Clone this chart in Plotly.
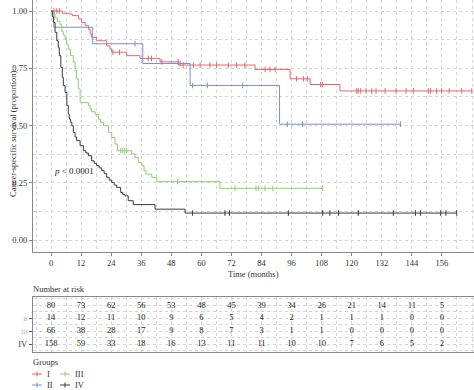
import bisect
import plotly.graph_objects as go

# ---------------- data ----------------
groups = ["I", "II", "III", "IV"]
colors = {"I": "#e4666c", "II": "#7d8fc6", "III": "#8fcd6f", "IV": "#3a3a3a"}

t_I = [0, 4.5, 7, 8.5, 11, 12.2, 13.6, 15, 15.6, 16.2, 18.2, 22.2, 23.5, 24.2, 30.2,
       35.5, 43.5, 50.8, 81.4, 95.4, 103.4, 115.3]
s_I = [1.0, 0.99, 0.987, 0.98, 0.965, 0.95, 0.936, 0.92, 0.90, 0.885, 0.87, 0.848, 0.834,
       0.82, 0.805, 0.793, 0.778, 0.764, 0.745, 0.704, 0.679, 0.651]
c_I = [1.2, 2.3, 3.3, 24.7, 27.3, 38.8, 40.1, 44.2, 50.7, 52.7, 56.8, 59.5, 63.4, 66.1,
       70.7, 74.1, 77.4, 85.4, 87.4, 89.4, 98, 100.7, 102.3, 107.6, 108.4, 122, 122.6,
       123.6, 125.7, 128, 129.7, 133.3, 137.7, 141.7, 144.6, 150.6, 151.5, 153.9, 155.9,
       158.9, 163.9, 167.9]

t_II = [0, 1.1, 16.6, 36.6, 55.5, 91.2]
s_II = [1.0, 0.929, 0.857, 0.771, 0.675, 0.506]
c_II = [33.5, 51.5, 56.5, 62.4, 76.5, 94.3, 100.4, 139.5]

t_III = [0, 0.8, 1.6, 2.5, 3.6, 4.3, 4.9, 5.6, 6.2, 6.9, 7.8, 8.9, 9.6, 10.2, 10.9, 11.6,
         14.9, 15.6, 16.2, 17.6, 18.9, 19.8, 20.9, 22.9, 24.2, 25.5, 26.5, 32.2, 33.5,
         34.8, 36.2, 37.1, 37.9, 40.2, 42.2, 67.4]
s_III = [1.0, 0.985, 0.97, 0.955, 0.94, 0.91, 0.895, 0.878, 0.856, 0.834, 0.805, 0.776,
         0.74, 0.703, 0.66, 0.60, 0.587, 0.572, 0.56, 0.548, 0.528, 0.514, 0.499, 0.47,
         0.448, 0.419, 0.39, 0.376, 0.361, 0.339, 0.325, 0.303, 0.288, 0.274, 0.255, 0.226]
c_III = [27.8, 28.6, 29.4, 30.2, 50.5, 73.4, 81.8, 82.7, 85.4, 88.5, 108.4]

t_IV = [0, 0.5, 1.0, 1.6, 2.3, 2.9, 3.3, 3.9, 4.5, 4.9, 5.6, 6.3, 6.9, 7.3, 7.8, 8.3, 8.9,
        9.6, 10.2, 11.6, 12.9, 13.9, 14.9, 16.2, 17.2, 18.2, 19.2, 20.2, 21.2, 22.2, 23.2,
        24.2, 25.2, 26.2, 27.8, 28.6, 29.5, 30.8, 32.8, 41.5, 53.5]
s_IV = [1.0, 0.975, 0.95, 0.907, 0.87, 0.84, 0.805, 0.754, 0.71, 0.674, 0.645, 0.587, 0.55,
        0.528, 0.514, 0.499, 0.47, 0.45, 0.434, 0.412, 0.39, 0.38, 0.368, 0.346, 0.335,
        0.325, 0.315, 0.303, 0.29, 0.274, 0.262, 0.252, 0.24, 0.23, 0.208, 0.2, 0.193,
        0.172, 0.155, 0.135, 0.118]
c_IV = [56.5, 69.4, 71.2, 94.7, 108.4, 111.3, 114.7, 122.6, 136.6, 145.4, 147.5, 155.5,
        157.6, 161.9]

risk_times = [0, 12, 24, 36, 48, 60, 72, 84, 96, 108, 120, 132, 144, 156]
risk_I = [80, 73, 62, 56, 53, 48, 45, 39, 34, 26, 21, 14, 11, 5]
risk_II = [14, 12, 11, 10, 9, 6, 5, 4, 2, 1, 1, 1, 0, 0]
risk_III = [66, 38, 28, 17, 9, 8, 7, 3, 1, 1, 0, 0, 0, 0]
risk_IV = [158, 59, 33, 18, 16, 13, 11, 11, 10, 10, 7, 6, 5, 2]

x_ticks = list(range(0, 157, 12))
y_ticks = [0, 0.25, 0.5, 0.75, 1.0]
y_ticklabels = ["0.00", "0.25", "0.50", "0.75", "1.00"]

curves = {"I": (t_I, s_I, c_I), "II": (t_II, s_II, c_II),
          "III": (t_III, s_III, c_III), "IV": (t_IV, s_IV, c_IV)}
risk = {"I": risk_I, "II": risk_II, "III": risk_III, "IV": risk_IV}

FONT = "Liberation Serif"
W, H = 474, 390
TXT = "#333"

fig = go.Figure()

for g in groups:
    t, s, c = curves[g]
    end = max(c[-1], t[-1])
    xs = t + [end]
    ys = s + [s[-1]]
    fig.add_trace(go.Scatter(x=xs, y=ys, mode="lines", line=dict(color=colors[g], width=1, shape="hv"),
                             showlegend=False, hoverinfo="skip", xaxis="x", yaxis="y"))
    cy = [s[bisect.bisect_right(t, ct) - 1] for ct in c]
    fig.add_trace(go.Scatter(x=c, y=cy, mode="markers",
                             marker=dict(symbol="line-ns", size=4, line=dict(color=colors[g], width=1)),
                             showlegend=False, hoverinfo="skip", xaxis="x", yaxis="y"))

# risk table
rows = {"I": 4, "II": 3, "III": 2, "IV": 1}
for g in groups:
    fig.add_trace(go.Scatter(x=risk_times, y=[rows[g]] * len(risk_times), text=[str(v) for v in risk[g]],
                             mode="text", textfont=dict(family=FONT, size=8.5, color="#222"),
                             showlegend=False, hoverinfo="skip", xaxis="x2", yaxis="y2"))

# legend (key glyph "+" and label), laid out in two columns like the reference
legend_slots = {"I": (32, 374), "III": (60, 374), "II": (32, 385), "IV": (60, 385)}
shapes = []
annotations = []
for g, (lx, ly) in legend_slots.items():
    shapes.append(dict(type="line", xref="paper", yref="paper", x0=lx / W, x1=(lx + 10) / W,
                       y0=1 - ly / H, y1=1 - ly / H, line=dict(color=colors[g], width=1)))
    shapes.append(dict(type="line", xref="paper", yref="paper", x0=(lx + 5) / W, x1=(lx + 5) / W,
                       y0=1 - (ly - 2.5) / H, y1=1 - (ly + 2.5) / H, line=dict(color=colors[g], width=1)))
    annotations.append(dict(text=g, x=(lx + 13) / W, y=1 - ly / H, xref="paper", yref="paper",
                            xanchor="left", yanchor="middle", showarrow=False,
                            font=dict(size=8.5, color=TXT)))

xr = [-7.2, 168.8]
grid = dict(showgrid=True, gridcolor="#d4d4d4", gridwidth=1, griddash="dot")
annotations += [
    dict(text="<i>p</i> < 0.0001", x=0.3, y=0.30, xref="x", yref="y", xanchor="left",
         yanchor="middle", showarrow=False, font=dict(size=9, color="#222")),
    dict(text="Time (months)", x=(33 + 474) / 2 / W, y=1 - 273.5 / H, xref="paper", yref="paper",
         yanchor="middle", showarrow=False, font=dict(size=8.5, color=TXT)),
    dict(text="Cancer-specific survival (proportion)", x=6 / W, y=1 - 134 / H, xref="paper",
         yref="paper", textangle=-90, showarrow=False, font=dict(size=8.5, color=TXT)),
    dict(text="Number at risk", x=31 / W, y=1 - 289 / H, xref="paper", yref="paper",
         xanchor="left", yanchor="middle", showarrow=False, font=dict(size=8.5, color=TXT)),
    dict(text="Groups", x=31 / W, y=1 - 362 / H, xref="paper", yref="paper",
         xanchor="left", yanchor="middle", showarrow=False, font=dict(size=8.5, color=TXT)),
]

fig.update_layout(
    width=W, height=H, margin=dict(l=0, r=0, t=0, b=0),
    paper_bgcolor="white", plot_bgcolor="white", showlegend=False,
    font=dict(family=FONT, size=8.5, color=TXT),
    xaxis=dict(domain=[33 / W, 1], range=xr, tickvals=x_ticks, ticks="outside", ticklen=3,
               tickcolor="#888", showline=True, linecolor="#888", linewidth=1.2, zeroline=False,
               tickfont=dict(size=8.5, color=TXT),
               minor=dict(dtick=6, tick0=0, showgrid=True, gridcolor="#d4d4d4", griddash="dot"),
               **grid),
    yaxis=dict(domain=[1 - 252 / H, 1], range=[-0.052, 1.048], tickvals=y_ticks, ticktext=y_ticklabels,
               ticks="outside", ticklen=3, tickcolor="#888", showline=True, linecolor="#888",
               linewidth=1.2, zeroline=False, tickfont=dict(size=8.5, color=TXT),
               minor=dict(dtick=0.125, tick0=0, showgrid=True, gridcolor="#d4d4d4", griddash="dot"),
               **grid),
    xaxis2=dict(domain=[33 / W, 1], range=xr, matches="x", anchor="y2", showticklabels=False,
                tickvals=x_ticks, showline=True, mirror=True, linecolor="#888", linewidth=1.2,
                zeroline=False,
                minor=dict(dtick=6, tick0=0, showgrid=True, gridcolor="#d4d4d4", griddash="dot"),
                **grid),
    yaxis2=dict(domain=[1 - 352 / H, 1 - 297 / H], range=[0.4, 4.65], anchor="x2",
                tickvals=[1, 2, 3],
                ticktext=["IV", "<span style='color:#9fd08a;font-size:6px'>III</span>",
                          "<span style='color:#9aa6d6;font-size:6px'>II</span>"],
                ticks="outside", ticklen=3, tickcolor="#555", showline=True, mirror=True,
                linecolor="#888", linewidth=1.2, zeroline=False, tickfont=dict(size=8.5, color=TXT),
                minor=dict(dtick=0.5, tick0=0, showgrid=True, gridcolor="#d4d4d4", griddash="dot"),
                **grid),
    shapes=shapes,
    annotations=annotations,
)

post = (
    "var de=document.documentElement;de.style.margin='0';de.style.overflow='hidden';"
    "var b=document.body;b.style.margin='0';b.style.overflow='hidden';"
    "var d=document.getElementById('{plot_id}');"
    "d.style.position='fixed';d.style.left='0';d.style.top='0';"
)
fig.write_html("out.html", config={"displayModeBar": False}, post_script=post)
